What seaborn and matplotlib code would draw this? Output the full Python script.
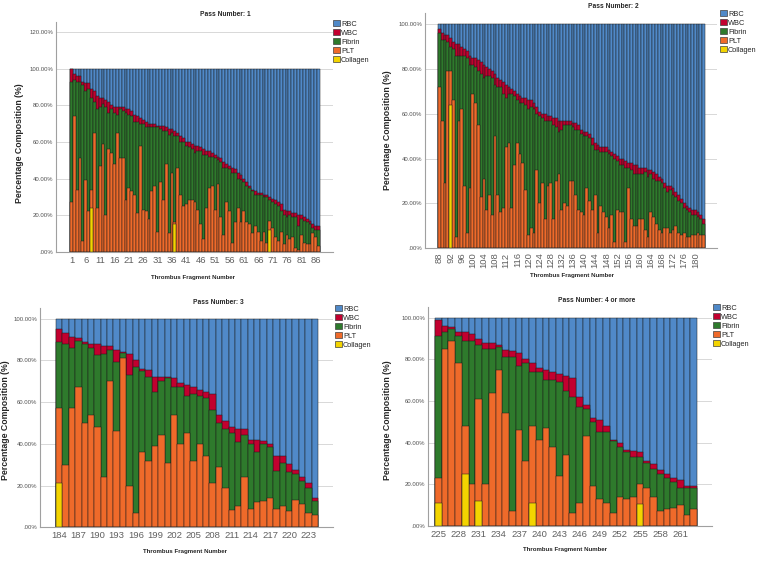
import matplotlib
matplotlib.use('Agg')
import matplotlib.pyplot as plt
from matplotlib.patches import Patch
from matplotlib.ticker import FuncFormatter
import seaborn as sns

# ---- data: cumulative tops of each stacked layer (% of fragment) ----
# Pass 1: fragments 1-87
p1_first, p1_last = 1, 87
p1_wbc_top = [100, 97, 96, 96, 93, 92, 92, 89, 88, 85,
              84, 84, 83, 82, 80, 79, 79, 79, 79, 78,
              78, 77, 75, 74, 73, 72, 71, 70, 70, 70,
              69, 69, 69, 68, 67, 67, 66, 65, 63, 62,
              60, 60, 59, 58, 58, 57, 56, 55, 55, 54,
              53, 52, 51, 49, 48, 47, 46, 45, 43, 42,
              40, 38, 36, 34, 33, 32, 32, 31, 31, 30,
              29, 28, 27, 26, 23, 22, 22, 21, 21, 20,
              20, 19, 18, 17, 15, 14, 14]
p1_fib_top = [93, 94, 93, 93, 91, 88, 89, 84, 82, 78,
              79, 81, 79, 76, 78, 76, 75, 78, 77, 76,
              75, 74, 71, 71, 70, 70, 68, 68, 68, 68,
              68, 67, 66, 66, 64, 65, 63, 63, 60, 60,
              58, 57, 56, 54, 55, 55, 53, 53, 52, 52,
              51, 50, 49, 46, 46, 45, 43, 43, 40, 39,
              38, 36, 35, 33, 31, 31, 31, 30, 30, 28,
              27, 26, 25, 22, 20, 19, 20, 19, 19, 14,
              18, 17, 16, 15, 13, 12, 12]
p1_plt_top = [27, 74, 34, 51, 6, 39, 22, 34, 65, 24,
              47, 59, 20, 56, 54, 48, 65, 51, 51, 28,
              35, 33, 31, 21, 58, 23, 22, 18, 33, 36,
              11, 38, 28, 48, 10, 43, 16, 46, 31, 25,
              26, 28, 28, 27, 23, 15, 7, 24, 35, 36,
              23, 37, 19, 9, 27, 22, 5, 16, 24, 16,
              22, 16, 15, 10, 14, 11, 6, 11, 5, 17,
              13, 8, 6, 11, 4, 9, 7, 8, 2, 1,
              9, 5, 4, 4, 10, 8, 3]
p1_collagen = {8: 24, 37: 15, 70: 12}

# Pass 2: fragments 88-183
p2_first, p2_last = 88, 183
p2_wbc_top = [98, 96, 95, 95, 94, 92, 91, 91, 90, 89,
              88, 86, 85, 85, 84, 83, 82, 81, 80, 79,
              78, 76, 75, 74, 73, 72, 71, 70, 69, 68,
              67, 67, 66, 66, 65, 63, 61, 60, 60, 59,
              59, 58, 58, 57, 57, 57, 57, 57, 56, 56,
              55, 53, 52, 52, 51, 49, 47, 46, 45, 45,
              45, 44, 43, 42, 41, 40, 40, 39, 38, 38,
              37, 37, 36, 36, 36, 35, 35, 34, 33, 32,
              31, 29, 28, 28, 27, 25, 24, 22, 20, 19,
              18, 17, 17, 16, 15, 13]
p2_fib_top = [96, 93, 93, 92, 90, 89, 86, 86, 86, 86,
              85, 82, 82, 81, 79, 78, 76, 77, 77, 76,
              73, 72, 72, 69, 67, 69, 69, 68, 66, 65,
              65, 64, 62, 63, 62, 60, 59, 58, 57, 57,
              57, 55, 54, 52, 53, 55, 55, 55, 54, 53,
              53, 51, 50, 50, 49, 46, 44, 44, 43, 43,
              43, 42, 41, 40, 39, 37, 37, 36, 36, 35,
              33, 33, 33, 33, 34, 32, 33, 31, 30, 30,
              29, 27, 25, 26, 24, 23, 21, 20, 18, 17,
              16, 15, 15, 14, 13, 11]
p2_plt_top = [72, 57, 29, 79, 79, 66, 5, 57, 62, 28,
              7, 27, 69, 65, 55, 23, 31, 17, 24, 15,
              50, 24, 16, 18, 45, 47, 18, 37, 47, 42,
              38, 26, 6, 9, 7, 35, 20, 29, 13, 28,
              29, 13, 30, 33, 17, 20, 19, 30, 30, 24,
              17, 16, 15, 27, 21, 17, 24, 7, 19, 16,
              14, 9, 15, 3, 17, 16, 16, 3, 27, 13,
              10, 10, 13, 13, 8, 5, 16, 14, 11, 8,
              7, 9, 9, 7, 8, 10, 7, 6, 7, 5,
              5, 6, 6, 7, 6, 6]
p2_collagen = {92: 64}

# Pass 3: fragments 184-224
p3_first, p3_last = 184, 224
p3_wbc_top = [95, 93, 91, 90.5, 89, 88, 88, 87, 87, 85,
              84, 83, 80, 76, 75.5, 72, 72, 72, 71.5, 69,
              68, 67, 66, 65, 64, 54, 51, 48, 47, 47,
              42, 42, 41.5, 40, 34, 34, 30.5, 27.5, 24, 21, 14]
p3_fib_top = [89, 88, 86, 89.5, 88, 86, 82.5, 83, 85, 79,
              83.5, 73, 77, 75, 72, 65, 70, 71.5, 67, 67,
              63, 64, 63, 62, 56, 50, 47, 45, 41, 44,
              40, 36, 40, 38.5, 27, 31, 26.5, 25.5, 22, 19, 12.5]
p3_plt_top = [57, 30, 57, 67, 50, 54, 48, 24, 70, 46,
              81, 20, 7, 36, 32, 39, 44, 31, 54, 40,
              45, 32, 40, 34, 21, 29, 19, 8.5, 10, 24,
              9, 12, 12.5, 14, 9, 10, 8, 13, 11, 7, 6]
p3_collagen = {184: 21}

# Pass 4 or more: fragments 225-263
p4_first, p4_last = 225, 263
p4_wbc_top = [99, 96, 95.5, 93, 93, 92, 90, 88, 88, 87,
              84.5, 84, 83, 80, 78, 76, 75, 74, 73, 72,
              71, 62, 58, 52, 51, 48, 41, 40, 36.5, 36,
              35.5, 31, 29.5, 27, 25, 23, 22, 19, 19]
p4_fib_top = [91, 93, 94.5, 91, 89, 89, 87, 85, 85, 86,
              81, 81, 77, 78, 74, 74, 70, 70, 69, 65,
              62, 57, 56, 50, 45, 45, 40.5, 38, 35.5, 33,
              33, 30, 27.5, 25, 23, 21, 18, 18, 18]
p4_plt_top = [23, 85, 89, 78, 48, 20, 61, 20, 64, 75,
              54, 7, 46, 31, 48, 41, 47, 38, 24, 34,
              6, 11, 43, 19, 13, 11, 6, 14, 13, 14,
              20, 18, 14, 7, 8, 8.5, 10, 5, 8]
p4_collagen = {225: 11, 229: 25, 231: 12, 239: 11, 255: 10.5}

components = ['RBC', 'WBC', 'Fibrin', 'PLT', 'Collagen']
colors = {'RBC': '#5089c8', 'WBC': '#c2002f', 'Fibrin': '#2e7a2c',
          'PLT': '#ef6a2a', 'Collagen': '#f3d400'}

sns.set_style('white')
plt.rcParams['font.family'] = ['Liberation Sans', 'DejaVu Sans']

fig = plt.figure(figsize=(7.6, 5.64), dpi=100)
W, H = 760, 564


def px_axes(left, right, top, bottom):
    return fig.add_axes([left / W, 1 - bottom / H, (right - left) / W, (bottom - top) / H])


def pct(v, pos):
    return '.00%' if v == 0 else f'{v:.2f}%'


def draw_panel(ax, first, last, wbc_top, fib_top, plt_top, coll, title,
               ylim, yticks, xlim, step, rot, title_xy, xlabel_xy, ylabel_xy, legend_xy):
    frag = list(range(first, last + 1))
    coll_vals = [coll.get(f, 0) for f in frag]
    layers = [([100] * len(frag), 'RBC'), (wbc_top, 'WBC'), (fib_top, 'Fibrin'),
              (plt_top, 'PLT'), (coll_vals, 'Collagen')]
    for vals, name in layers:
        sns.barplot(x=frag, y=vals, color=colors[name], width=1, saturation=1,
                    edgecolor='#1a1a1a', linewidth=0.35, errorbar=None, orient='x', ax=ax)
    ax.set_ylim(*ylim)
    ax.set_xlim(*xlim)
    ax.set_yticks(yticks)
    ax.yaxis.set_major_formatter(FuncFormatter(pct))
    pos = list(range(0, len(frag), step))
    ax.set_xticks(pos)
    ax.set_xticklabels([str(frag[p]) for p in pos], rotation=rot)
    ax.tick_params(axis='x', length=0, labelsize=6.8, colors='#606060', pad=3)
    ax.tick_params(axis='y', length=0, labelsize=4.3, colors='#505050', pad=2)
    ax.set_xlabel('')
    ax.set_ylabel('')
    ax.grid(axis='y', color='#d8d8d8', linewidth=0.7)
    ax.set_axisbelow(True)
    for s in ['top', 'right']:
        ax.spines[s].set_visible(False)
    for s in ['left', 'bottom']:
        ax.spines[s].set_color('#a0a0a0')
        ax.spines[s].set_linewidth(0.8)
    fig.text(title_xy[0] / W, 1 - title_xy[1] / H, title, ha='center', va='center',
             fontsize=4.8, fontweight='bold')
    fig.text(xlabel_xy[0] / W, 1 - xlabel_xy[1] / H, 'Thrombus Fragment Number',
             ha='center', va='center', fontsize=4.4, fontweight='bold')
    fig.text(ylabel_xy[0] / W, 1 - ylabel_xy[1] / H, 'Percentage Composition (%)',
             ha='center', va='center', rotation=90, fontsize=6.3, fontweight='bold')
    handles = [Patch(facecolor=colors[c], edgecolor='#404040', linewidth=0.5, label=c)
               for c in components]
    fig.legend(handles=handles, loc='upper left',
               bbox_to_anchor=(legend_xy[0] / W, 1 - legend_xy[1] / H),
               frameon=False, fontsize=5.3, handlelength=0.9, handleheight=0.9,
               handletextpad=0.2, labelspacing=0.2, borderpad=0, borderaxespad=0)


ax1 = px_axes(56, 333, 22, 251.7)
draw_panel(ax1, p1_first, p1_last, p1_wbc_top, p1_fib_top, p1_plt_top, p1_collagen,
           'Pass Number: 1', (0, 125.6), [0, 20, 40, 60, 80, 100, 120], (-5.37, 91.0),
           5, 0, (225, 15), (193, 277), (20, 143), (333, 20))

ax2 = px_axes(425, 717, 13, 248.3)
draw_panel(ax2, p2_first, p2_last, p2_wbc_top, p2_fib_top, p2_plt_top, p2_collagen,
           'Pass Number: 2', (0, 105), [0, 20, 40, 60, 80, 100], (-5.2, 99.8),
           4, 90, (613, 7), (572, 276), (387, 130), (720, 10))

ax3 = px_axes(40, 333, 308, 527.3)
draw_panel(ax3, p3_first, p3_last, p3_wbc_top, p3_fib_top, p3_plt_top, p3_collagen,
           'Pass Number: 3', (0, 105.1), [0, 20, 40, 60, 80, 100], (-3.0, 42.85),
           3, 0, (218, 302), (185, 552), (6, 420), (335, 305))

ax4 = px_axes(428, 712, 306.7, 525.7)
draw_panel(ax4, p4_first, p4_last, p4_wbc_top, p4_fib_top, p4_plt_top, p4_collagen,
           'Pass Number: 4 or more', (0, 105.3), [0, 20, 40, 60, 80, 100], (-1.54, 40.7),
           3, 0, (597, 301), (565, 549), (387, 420), (713, 304))

fig.savefig('out.png', dpi=100, facecolor='white')
